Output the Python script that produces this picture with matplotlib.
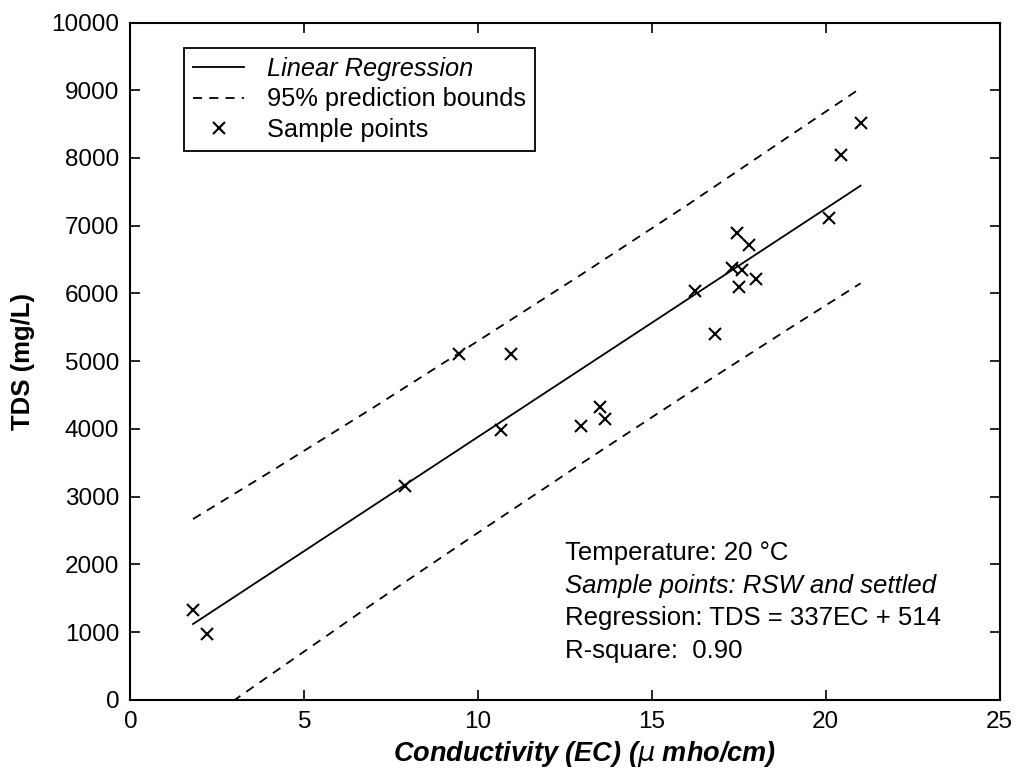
import numpy as np
import matplotlib
matplotlib.use('Agg')
import matplotlib.pyplot as plt

plt.rcParams['font.family'] = ['Liberation Sans', 'DejaVu Sans']

# sample points
ec = [1.8, 2.2, 7.9, 9.45, 10.95, 10.65, 12.95, 13.5, 13.65, 16.25,
      16.8, 17.45, 17.8, 17.3, 17.6, 17.5, 18.0, 20.1, 20.45, 21.0]
tds = [1330, 980, 3160, 5110, 5100, 3985, 4040, 4320, 4140, 6040,
       5400, 6890, 6720, 6370, 6340, 6100, 6220, 7110, 8050, 8520]

# regression  TDS = 337EC + 514
slope = 337
intercept = 514

# 95% prediction bounds
bound_x = [1.8, 4.0, 7.0, 10.0, 13.0, 16.0, 19.0, 21.0]
upper_y = [2670, 3360, 4320, 5300, 6290, 7300, 8340, 9030]
lower_y = [-430, 360, 1430, 2470, 3500, 4510, 5500, 6150]

annot = ['Temperature: 20 \u00b0C',
         'Sample points: RSW and settled',
         'Regression: TDS = 337EC + 514',
         'R-square:  0.90']
annot_style = ['normal', 'italic', 'normal', 'normal']

fig = plt.figure(figsize=(10.19, 7.76), dpi=100)
ax = fig.add_axes([0.128, 0.098, 0.853, 0.873])

xl = np.array([min(ec), max(ec)])
ax.plot(xl, slope * xl + intercept, color='black', lw=1.3, label='Linear Regression')
ax.plot(bound_x, upper_y, color='black', lw=1.3, ls=(0, (5, 4)), label='95% prediction bounds')
ax.plot(bound_x, lower_y, color='black', lw=1.3, ls=(0, (5, 4)))
ax.plot(ec, tds, ls='none', marker='x', color='black', ms=8.5, mew=1.5, label='Sample points')

ax.set_xlim(0, 25)
ax.set_ylim(0, 10000)
ax.set_xticks([0, 5, 10, 15, 20, 25])
ax.set_yticks(np.arange(0, 10001, 1000))
ax.tick_params(direction='in', length=7, width=1.2, top=True, right=True, labelsize=17.5, pad=8)
for s in ax.spines.values():
    s.set_linewidth(1.5)

ax.set_xlabel('Conductivity (EC) ($\\mu$ mho/cm)', fontsize=19.5, fontweight='bold', style='italic')
ax.xaxis.set_label_coords(0.523, -0.057)
ax.set_ylabel('TDS (mg/L)', fontsize=18.5, fontweight='bold', labelpad=12)

leg = ax.legend(loc='upper left', bbox_to_anchor=(0.062, 0.962), fontsize=18.3, frameon=True,
                fancybox=False, edgecolor='black', framealpha=1, handlelength=2.0,
                borderpad=0.35, labelspacing=0.25, handletextpad=0.9, borderaxespad=0)
leg.get_frame().set_linewidth(1.3)
leg.get_texts()[0].set_style('italic')

for i, (t, st) in enumerate(zip(annot, annot_style)):
    ax.text(12.5, 2170 - i * 481, t, fontsize=18.5, style=st, va='center', ha='left')

fig.savefig('out.png', dpi=100)
